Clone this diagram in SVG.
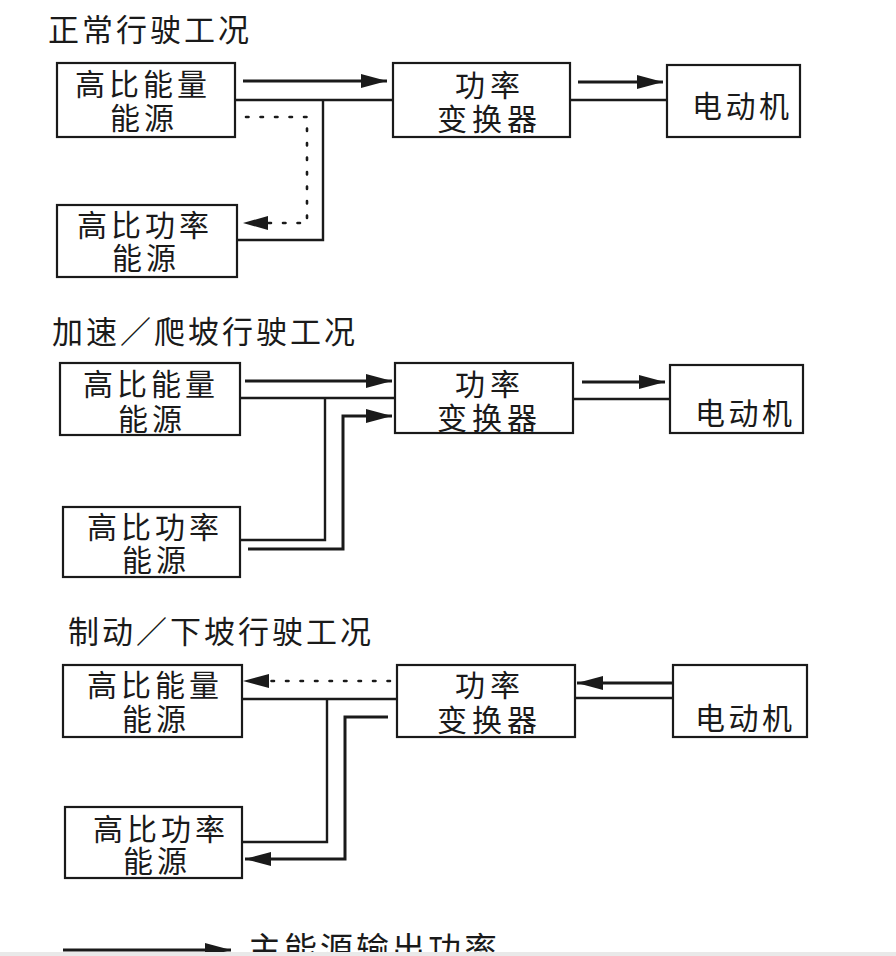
<svg xmlns="http://www.w3.org/2000/svg" width="896" height="956" viewBox="0 0 896 956">
<defs>
<style>
.box{fill:#fff;stroke:#1a1a1a;stroke-width:2.2}
.t{font-family:"Noto Sans CJK SC","Noto Sans CJK JP",sans-serif;font-size:30px;fill:#1a1a1a;letter-spacing:4px}
.c{letter-spacing:5px}
.m{letter-spacing:3.5px}
.ttl{font-family:"Noto Sans CJK SC","Noto Sans CJK JP",sans-serif;font-size:31px;fill:#1a1a1a;letter-spacing:3px}
.ln{fill:none;stroke:#1a1a1a;stroke-width:2.4}
.ar{fill:none;stroke:#1a1a1a;stroke-width:3;marker-end:url(#ah)}
.dot{fill:none;stroke:#1a1a1a;stroke-width:2.6;stroke-dasharray:2.5 12;stroke-linecap:round}
</style>
<marker id="ah" markerUnits="userSpaceOnUse" markerWidth="28" markerHeight="16" refX="26" refY="8" orient="auto">
<path d="M0,1 L26,8 L0,15 Z" fill="#1a1a1a"/>
</marker>
</defs>
<rect width="896" height="956" fill="#fff"/>

<g id="titles">
<text class="ttl" x="48" y="41">正常行驶工况</text>
<text class="ttl" x="52" y="343">加速／爬坡行驶工况</text>
<text class="ttl" x="68" y="643">制动／下坡行驶工况</text>
</g>

<g id="s1-energy"><rect class="box" x="57" y="63" width="178" height="74"/><text class="t"><tspan x="75" y="95">高比能量</tspan><tspan x="110" y="129">能源</tspan></text></g>
<g id="s1-power"><rect class="box" x="57" y="205" width="180" height="72"/><text class="t"><tspan x="77" y="236">高比功率</tspan><tspan x="112" y="269">能源</tspan></text></g>
<g id="s1-conv"><rect class="box" x="393" y="63" width="177" height="74"/><text class="t c"><tspan x="455" y="96">功率</tspan><tspan x="437" y="130">变换器</tspan></text></g>
<g id="s1-motor"><rect class="box" x="667" y="65" width="133" height="72"/><text class="t m" x="692" y="117">电动机</text></g>

<g id="s2-energy"><rect class="box" x="60" y="363" width="180" height="72"/><text class="t"><tspan x="83" y="395">高比能量</tspan><tspan x="118" y="430">能源</tspan></text></g>
<g id="s2-power"><rect class="box" x="63" y="507" width="177" height="70"/><text class="t"><tspan x="87" y="538">高比功率</tspan><tspan x="122" y="571">能源</tspan></text></g>
<g id="s2-conv"><rect class="box" x="395" y="363" width="178" height="70"/><text class="t c"><tspan x="455" y="395">功率</tspan><tspan x="437" y="429">变换器</tspan></text></g>
<g id="s2-motor"><rect class="box" x="670" y="365" width="133" height="68"/><text class="t m" x="695" y="424">电动机</text></g>

<g id="s3-energy"><rect class="box" x="63" y="665" width="179" height="72"/><text class="t"><tspan x="87" y="696">高比能量</tspan><tspan x="122" y="730">能源</tspan></text></g>
<g id="s3-power"><rect class="box" x="65" y="807" width="177" height="71"/><text class="t"><tspan x="93" y="840">高比功率</tspan><tspan x="123" y="872">能源</tspan></text></g>
<g id="s3-conv"><rect class="box" x="397" y="665" width="178" height="72"/><text class="t c"><tspan x="455" y="696">功率</tspan><tspan x="437" y="731">变换器</tspan></text></g>
<g id="s3-motor"><rect class="box" x="673" y="665" width="134" height="72"/><text class="t m" x="695" y="729">电动机</text></g>

<g id="connectors">
<path class="ar" d="M243,81 L387,81"/>
<path class="ln" d="M235,100 L393,100 M323,100 L323,240 L237,240"/>
<path class="dot" d="M246,117 L307,117 L307,223 L262,223"/>
<path d="M243,223 L268,216 L268,230 Z" fill="#1a1a1a"/>
<path class="ar" d="M578,82 L663,82"/>
<path class="ln" d="M570,100 L667,100"/>

<path class="ar" d="M245,381 L392,381"/>
<path class="ln" d="M240,398 L395,398 M325,398 L325,540 L240,540"/>
<path class="ar" d="M248,549 L343,549 L343,416 L392,416"/>
<path class="ar" d="M582,382 L665,382"/>
<path class="ln" d="M573,399 L670,399"/>

<path class="dot" d="M390,681 L270,681"/>
<path d="M243,681 L269,674 L269,688 Z" fill="#1a1a1a"/>
<path class="ln" d="M242,699 L397,699 M327,699 L327,842 L242,842"/>
<path class="ar" d="M388,717 L345,717 L345,859 L245,859"/>
<path class="ar" d="M673,683 L577,683"/>
<path class="ln" d="M575,698 L673,698"/>
</g>

<g id="legend">
<path class="ar" d="M63,950 L231,950"/>
<text class="ttl" x="248" y="961" style="font-size:33px">主能源输出功率</text>
<rect x="0" y="952" width="896" height="4" fill="#e9e9e9"/>
</g>
</svg>
